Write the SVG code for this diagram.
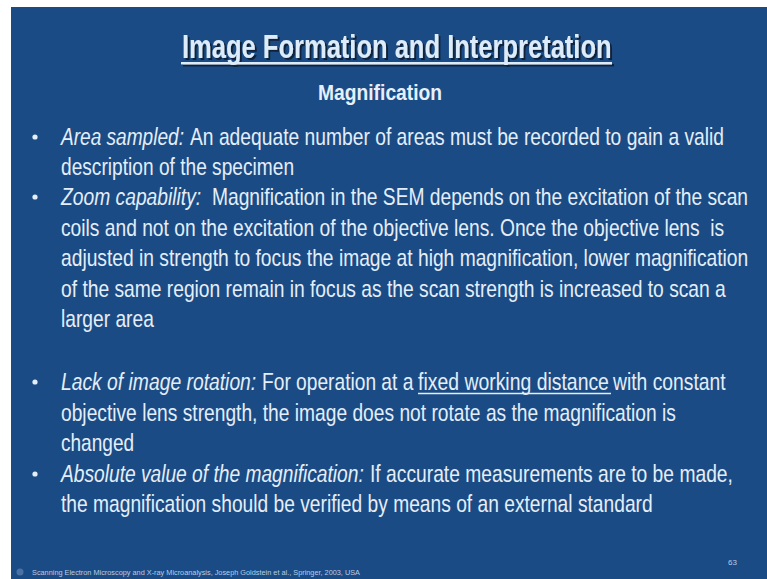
<svg xmlns="http://www.w3.org/2000/svg" width="767" height="579" viewBox="0 0 767 579">
  <defs>
    <filter id="shadow" x="-5%" y="-20%" width="110%" height="150%">
      <feDropShadow dx="2" dy="2" stdDeviation="0.6" flood-color="#0a1a30" flood-opacity="0.9"/>
    </filter>
  </defs>
  <style>
    .bg { fill: #1b4b84; }
    .title { font-family: "Liberation Sans", Arial, sans-serif; font-size: 33px; font-weight: bold; fill: #dcecfa; }
    .sub { font-family: "Liberation Sans", Arial, sans-serif; font-size: 22px; font-weight: bold; fill: #e6f0fa; }
    .body { font-family: "Liberation Sans", Arial, sans-serif; font-size: 24px; fill: #e4eef8; }
    .it { font-style: italic; }
    .dot { fill: #e4eef8; }
    .rule { stroke: #e4eef8; stroke-width: 1.4; }
    .foot { font-family: "Liberation Sans", Arial, sans-serif; font-size: 8px; fill: #b8cce4; }
  </style>

  <rect x="0" y="0" width="767" height="579" fill="#ffffff"/>
  <rect class="bg" x="11" y="7" width="756" height="572"/>

  <!-- heading -->
  <g id="heading" filter="url(#shadow)">
    <text class="title" transform="translate(182 58) scale(0.8 1)" textLength="537" lengthAdjust="spacingAndGlyphs">Image Formation and Interpretation</text>
    <rect x="181" y="62" width="431" height="2.4" fill="#dcecfa"/>
  </g>
  <text id="subheading" class="sub" transform="translate(318 100) scale(0.85 1)" textLength="146" lengthAdjust="spacingAndGlyphs">Magnification</text>

  <!-- bullet 1: body lines are narrowed with a horizontal scale; textLength is in the narrowed units -->
  <g id="area-sampled">
    <circle class="dot" cx="35" cy="137" r="2.6"/>
    <text class="body it" transform="translate(61 145) scale(0.86 1)" textLength="143" lengthAdjust="spacingAndGlyphs">Area sampled:</text>
    <text class="body" transform="translate(190 145) scale(0.86 1)" textLength="621" lengthAdjust="spacingAndGlyphs">An adequate number of areas must be recorded to gain a valid</text>
    <text class="body" transform="translate(61 175) scale(0.86 1)" textLength="271" lengthAdjust="spacingAndGlyphs">description of the specimen</text>
  </g>

  <!-- bullet 2 -->
  <g id="zoom-capability">
    <circle class="dot" cx="35" cy="197" r="2.6"/>
    <text class="body it" transform="translate(61 205) scale(0.86 1)" textLength="163" lengthAdjust="spacingAndGlyphs">Zoom capability:</text>
    <text class="body" transform="translate(212 205) scale(0.8 1)" textLength="670" lengthAdjust="spacingAndGlyphs">Magnification in the SEM depends on the excitation of the scan</text>
    <text class="body" transform="translate(61 236) scale(0.8 1)" textLength="829" lengthAdjust="spacingAndGlyphs" xml:space="preserve">coils and not on the excitation of the objective lens. Once the objective lens  is</text>
    <text class="body" transform="translate(61 266) scale(0.8 1)" textLength="859" lengthAdjust="spacingAndGlyphs">adjusted in strength to focus the image at high magnification, lower magnification</text>
    <text class="body" transform="translate(61 297) scale(0.8 1)" textLength="831" lengthAdjust="spacingAndGlyphs">of the same region remain in focus as the scan strength is increased to scan a</text>
    <text class="body" transform="translate(61 327) scale(0.86 1)" textLength="108" lengthAdjust="spacingAndGlyphs">larger area</text>
  </g>

  <!-- bullet 3 -->
  <g id="image-rotation">
    <circle class="dot" cx="35" cy="382" r="2.6"/>
    <text class="body it" transform="translate(61 390) scale(0.86 1)" textLength="227" lengthAdjust="spacingAndGlyphs">Lack of image rotation:</text>
    <text class="body" transform="translate(262 390) scale(0.86 1)" textLength="176" lengthAdjust="spacingAndGlyphs">For operation at a</text>
    <text class="body" transform="translate(418 390) scale(0.86 1)" textLength="222" lengthAdjust="spacingAndGlyphs">fixed working distance</text>
    <line class="rule" x1="418" y1="393.5" x2="611" y2="393.5"/>
    <text class="body" transform="translate(613 390) scale(0.86 1)" textLength="131" lengthAdjust="spacingAndGlyphs">with constant</text>
    <text class="body" transform="translate(61 421) scale(0.86 1)" textLength="715" lengthAdjust="spacingAndGlyphs">objective lens strength, the image does not rotate as the magnification is</text>
    <text class="body" transform="translate(61 451) scale(0.86 1)" textLength="85" lengthAdjust="spacingAndGlyphs">changed</text>
  </g>

  <!-- bullet 4 -->
  <g id="absolute-value">
    <circle class="dot" cx="35" cy="474" r="2.6"/>
    <text class="body it" transform="translate(61 482) scale(0.86 1)" textLength="352" lengthAdjust="spacingAndGlyphs">Absolute value of the magnification:</text>
    <text class="body" transform="translate(370 482) scale(0.86 1)" textLength="422" lengthAdjust="spacingAndGlyphs">If accurate measurements are to be made,</text>
    <text class="body" transform="translate(61 512) scale(0.86 1)" textLength="688" lengthAdjust="spacingAndGlyphs">the magnification should be verified by means of an external standard</text>
  </g>

  <!-- footer -->
  <g id="footer">
    <circle cx="20" cy="572" r="3.5" fill="#4a72a4"/>
    <text class="foot" transform="translate(32 575) scale(0.8 1)" textLength="410" lengthAdjust="spacingAndGlyphs">Scanning Electron Microscopy and X-ray Microanalysis, Joseph Goldstein et al., Springer, 2003, USA</text>
    <text class="foot" x="728" y="565" font-size="9">63</text>
  </g>
</svg>
